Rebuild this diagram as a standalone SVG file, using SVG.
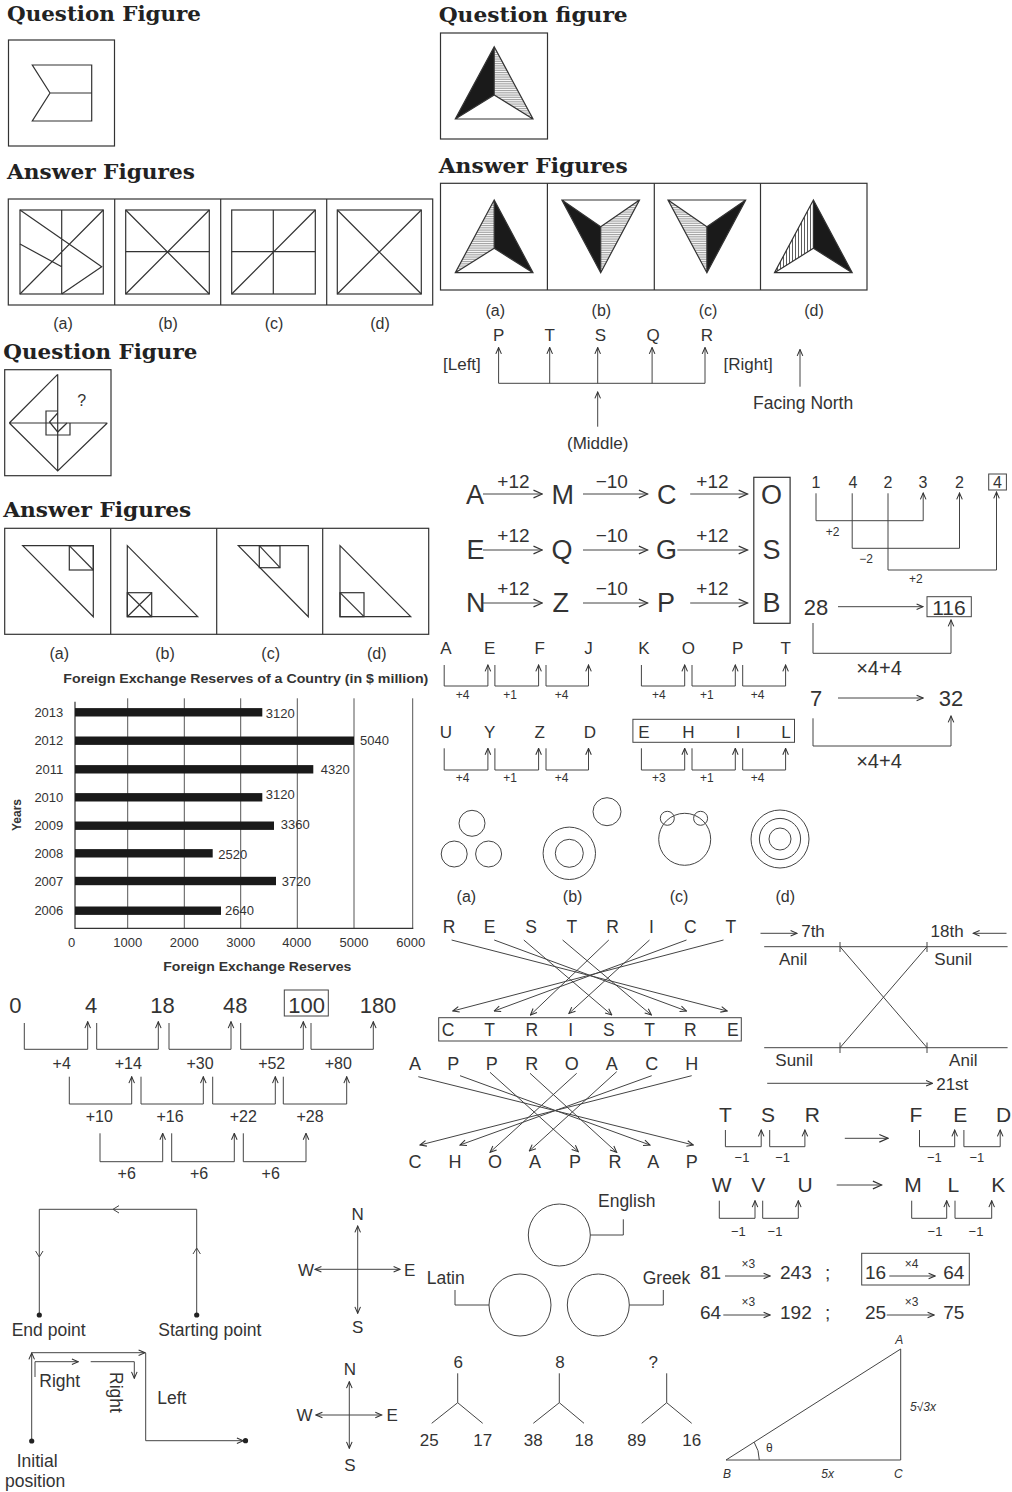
<svg xmlns="http://www.w3.org/2000/svg" width="1012" height="1492" viewBox="0 0 1012 1492">
<defs>
<style>
.t{font-family:"Liberation Sans",Arial,Helvetica,sans-serif;fill:#333}
.h{font-family:"DejaVu Serif","Liberation Serif",serif;font-weight:bold;fill:#222;font-size:21px}
.ln{fill:none;stroke:#333;stroke-width:1.2}
.lt{fill:none;stroke:#444;stroke-width:1}
.m{text-anchor:middle}
.e{text-anchor:end}
.ar{marker-end:url(#ah)}
.al{marker-end:url(#al)}
.bar{fill:#1a1a1a}
.i{font-style:italic}
</style>
<marker id="ah" viewBox="0 0 10 10" refX="9" refY="5" markerWidth="8" markerHeight="8" orient="auto-start-reverse" markerUnits="userSpaceOnUse"><path d="M1,1.5 L9,5 L1,8.5" fill="none" stroke="#333" stroke-width="1.3"/></marker>
<marker id="al" viewBox="0 0 10 10" refX="9" refY="5" markerWidth="11" markerHeight="11" orient="auto-start-reverse" markerUnits="userSpaceOnUse"><path d="M1,1.5 L9,5 L1,8.5" fill="none" stroke="#333" stroke-width="1.1"/></marker>
<pattern id="hh" patternUnits="userSpaceOnUse" width="4" height="1.8"><rect width="4" height="1.8" fill="#fff"/><line x1="0" y1="0.5" x2="4" y2="0.5" stroke="#777" stroke-width="0.7"/></pattern>
<pattern id="vh" patternUnits="userSpaceOnUse" width="3" height="4"><rect width="3" height="4" fill="#fff"/><line x1="0.5" y1="0" x2="0.5" y2="4" stroke="#333" stroke-width="0.8"/></pattern>
</defs>
<rect width="1012" height="1492" fill="#fff"/>

<!-- Section 1 -->
<g id="q1-question">
<text class="h" x="7" y="21" textLength="194" lengthAdjust="spacingAndGlyphs">Question Figure</text>
<rect class="ln" x="8.5" y="40" width="106" height="106"/>
<path class="ln" d="M32.3,65 H91.7 V121 H32.3 L50,93 Z M50,93 H91.7"/>
</g>
<g id="q1-answers">
<text class="h" x="7" y="179" textLength="188" lengthAdjust="spacingAndGlyphs">Answer Figures</text>
<rect class="ln" x="8.3" y="199" width="424.4" height="106"/>
<path class="ln" d="M114.7,199 V305 M220.7,199 V305 M326.7,199 V305"/>
<rect class="ln" x="20" y="210" width="83.3" height="84"/>
<path class="ln" d="M61.7,210 V294 M20,294 L103.3,210 M20,210 L101.7,266.7 L61.7,294 M20,244 L61.7,266.7"/>
<rect class="ln" x="125.7" y="210" width="83.6" height="84"/>
<path class="ln" d="M125.7,210 L209.3,294 M125.7,294 L209.3,210 M125.7,251.7 H209.3"/>
<rect class="ln" x="231.7" y="210" width="83.6" height="84"/>
<path class="ln" d="M273.3,210 V294 M231.7,251.7 H315.3 M231.7,294 L315.3,210"/>
<rect class="ln" x="337.3" y="210" width="84" height="84"/>
<path class="ln" d="M337.3,210 L421.3,294 M337.3,294 L421.3,210"/>
<text class="t m" x="63" y="329" font-size="16">(a)</text>
<text class="t m" x="168" y="329" font-size="16">(b)</text>
<text class="t m" x="274" y="329" font-size="16">(c)</text>
<text class="t m" x="380" y="329" font-size="16">(d)</text>
</g>

<!-- Section 2 -->
<g id="q2-question">
<text class="h" x="438.7" y="22" textLength="189" lengthAdjust="spacingAndGlyphs">Question figure</text>
<rect class="ln" x="440.5" y="33" width="107" height="106"/>
<path d="M494.2,46.7 L455.3,119 L494.2,95 Z" fill="#1a1a1a"/>
<path d="M494.2,46.7 L494.2,95 L533,119 Z" fill="url(#hh)"/>
<path class="ln" d="M494.2,46.7 L455.3,119 L533,119 Z M494.2,46.7 V95 M455.3,119 L494.2,95 L533,119"/>
</g>
<g id="q2-answers">
<text class="h" x="438.7" y="173" textLength="189" lengthAdjust="spacingAndGlyphs">Answer Figures</text>
<rect class="ln" x="440.5" y="183.3" width="426.5" height="106.7"/>
<path class="ln" d="M547.4,183.3 V290 M654.3,183.3 V290 M760.5,183.3 V290"/>
<path d="M494.2,200 L455.3,272.7 L494.2,248.3 Z" fill="url(#hh)"/>
<path d="M494.2,200 L494.2,248.3 L533,272.7 Z" fill="#1a1a1a"/>
<path class="ln" d="M494.2,200 L455.3,272.7 L533,272.7 Z M494.2,200 V248.3 M455.3,272.7 L494.2,248.3 L533,272.7"/>
<path d="M561.9,200 L600.7,226.7 L600.7,272.7 Z" fill="#1a1a1a"/>
<path d="M639.5,200 L600.7,226.7 L600.7,272.7 Z" fill="url(#hh)"/>
<path class="ln" d="M561.9,200 H639.5 L600.7,272.7 Z M600.7,226.7 V272.7 M561.9,200 L600.7,226.7 L639.5,200"/>
<path d="M668,200 L706.9,226.7 L706.9,272.7 Z" fill="url(#hh)"/>
<path d="M745.7,200 L706.9,226.7 L706.9,272.7 Z" fill="#1a1a1a"/>
<path class="ln" d="M668,200 H745.7 L706.9,272.7 Z M706.9,226.7 V272.7 M668,200 L706.9,226.7 L745.7,200"/>
<path d="M813.4,200 L774.5,272.7 L813.4,248.3 Z" fill="url(#vh)"/>
<path d="M813.4,200 L813.4,248.3 L852.2,272.7 Z" fill="#1a1a1a"/>
<path class="ln" d="M813.4,200 L774.5,272.7 L852.2,272.7 Z M813.4,200 V248.3 M774.5,272.7 L813.4,248.3 L852.2,272.7"/>
<text class="t m" x="495.3" y="316" font-size="16">(a)</text>
<text class="t m" x="601.4" y="316" font-size="16">(b)</text>
<text class="t m" x="708" y="316" font-size="16">(c)</text>
<text class="t m" x="814" y="316" font-size="16">(d)</text>
</g>

<g id="seating">
<text class="t m" x="498.6" y="341" font-size="17">P</text>
<text class="t m" x="549.7" y="341" font-size="17">T</text>
<text class="t m" x="600.3" y="341" font-size="17">S</text>
<text class="t m" x="653.2" y="341" font-size="17">Q</text>
<text class="t m" x="706.9" y="341" font-size="17">R</text>
<text class="t" x="443" y="370" font-size="17">[Left]</text>
<text class="t" x="723.5" y="370" font-size="17">[Right]</text>
<text class="t m" x="597.7" y="449" font-size="17">(Middle)</text>
<text class="t" x="753" y="409" font-size="17.5">Facing North</text>
</g>
<g id="seating-connectors">
<path class="lt" d="M498.6,383.3 H705"/>
<path class="lt ar" d="M498.6,383.3 V347.5"/>
<path class="lt ar" d="M549.7,383.3 V347.5"/>
<path class="lt ar" d="M597.7,383.3 V347.5"/>
<path class="lt ar" d="M652.1,383.3 V347.5"/>
<path class="lt ar" d="M705,383.3 V347.5"/>
<path class="lt ar" d="M597.7,426.7 V392"/>
<path class="lt ar" d="M800,386.7 V349.5"/>
</g>

<!-- Section 3 -->
<g id="q3-question">
<text class="h" x="3.3" y="359" textLength="194" lengthAdjust="spacingAndGlyphs">Question Figure</text>
<rect class="ln" x="4.7" y="369.7" width="106.3" height="106"/>
<path class="ln" d="M9.3,423 H107.3 M57.7,374.3 V471 M9.3,423 L57.7,374.3 M9.3,423 L57.7,471 L107.3,423"/>
<path class="ln" d="M57.7,411 H46 V435 H70 V423 M57.7,413 L49.5,422 L57.7,432 L67,423"/>
<text class="t m" x="81.7" y="406" font-size="16">?</text>
</g>
<g id="q3-answers">
<text class="h" x="3.3" y="516.7" textLength="188" lengthAdjust="spacingAndGlyphs">Answer Figures</text>
<rect class="ln" x="4.7" y="528.3" width="424" height="106"/>
<path class="ln" d="M110.7,528.3 V634.3 M216.7,528.3 V634.3 M322.7,528.3 V634.3"/>
<path class="ln" d="M22.7,545.7 H93.3 V616.7 Z"/>
<rect class="ln" x="69.3" y="545.7" width="24" height="24.3"/>
<path class="ln" d="M69.3,545.7 L93.3,570"/>
<path class="ln" d="M127.3,545.7 V616.7 H197.7 Z"/>
<rect class="ln" x="127.3" y="592.7" width="24.4" height="24"/>
<path class="ln" d="M127.3,592.7 L151.7,616.7 M127.3,616.7 L151.7,592.7"/>
<path class="ln" d="M238.3,545.7 H308.3 V616.7 Z"/>
<rect class="ln" x="259.3" y="545.7" width="20.7" height="22"/>
<path class="ln" d="M259.3,545.7 L280,567.7"/>
<path class="ln" d="M340,545.7 V616.7 H410.7 Z"/>
<rect class="ln" x="340" y="592.7" width="24" height="24"/>
<path class="ln" d="M340,592.7 L364,616.7"/>
<text class="t m" x="59.3" y="659" font-size="16">(a)</text>
<text class="t m" x="165" y="659" font-size="16">(b)</text>
<text class="t m" x="270.7" y="659" font-size="16">(c)</text>
<text class="t m" x="376.7" y="659" font-size="16">(d)</text>
</g>

<!-- Letter coding -->
<g id="coding-letters">
<text class="t" x="466" y="504" font-size="27">A</text>
<text class="t" x="551.5" y="504" font-size="27">M</text>
<text class="t" x="657" y="504" font-size="27">C</text>
<text class="t m" x="771.6" y="504" font-size="27">O</text>
<text class="t" x="466.4" y="559" font-size="27">E</text>
<text class="t" x="551.5" y="559" font-size="27">Q</text>
<text class="t" x="656" y="559" font-size="27">G</text>
<text class="t m" x="771.6" y="559" font-size="27">S</text>
<text class="t" x="466" y="612" font-size="27">N</text>
<text class="t" x="552.6" y="612" font-size="27">Z</text>
<text class="t" x="657" y="612" font-size="27">P</text>
<text class="t m" x="771.6" y="612" font-size="27">B</text>
<rect class="ln" x="753.8" y="477.3" width="36.3" height="146"/>
<text class="t m" x="513.4" y="488.3" font-size="19">+12</text>
<text class="t m" x="611.8" y="488.3" font-size="19">−10</text>
<text class="t m" x="712.4" y="488.3" font-size="19">+12</text>
<text class="t m" x="513.4" y="542" font-size="19">+12</text>
<text class="t m" x="611.8" y="542" font-size="19">−10</text>
<text class="t m" x="712.4" y="542" font-size="19">+12</text>
<text class="t m" x="513.4" y="595" font-size="19">+12</text>
<text class="t m" x="611.8" y="595" font-size="19">−10</text>
<text class="t m" x="712.4" y="595" font-size="19">+12</text>
</g>
<g id="coding-connectors">
<path class="lt al" d="M483,494 H542.3"/>
<path class="lt al" d="M583,494 H647.7"/>
<path class="lt al" d="M690.2,494 H747.5"/>
<path class="lt al" d="M483,550 H542.3"/>
<path class="lt al" d="M583,550 H647.7"/>
<path class="lt al" d="M677.3,550 H747.5"/>
<path class="lt al" d="M483,603 H542.3"/>
<path class="lt al" d="M583,603 H647.7"/>
<path class="lt al" d="M690.2,603 H747.5"/>
</g>

<!-- 1 4 2 3 2 4 -->
<g id="num-pattern">
<text class="t m" x="816" y="488.3" font-size="16">1</text>
<text class="t m" x="853" y="488.3" font-size="16">4</text>
<text class="t m" x="888" y="488.3" font-size="16">2</text>
<text class="t m" x="923" y="488.3" font-size="16">3</text>
<text class="t m" x="959.5" y="488.3" font-size="16">2</text>
<text class="t m" x="997.5" y="488.3" font-size="16">4</text>
<rect class="lt" x="988.7" y="474" width="17.7" height="16"/>
<text class="t m" x="832.6" y="536" font-size="12">+2</text>
<text class="t m" x="866" y="563" font-size="12">−2</text>
<text class="t m" x="915.8" y="583" font-size="12">+2</text>
<path class="lt ar" d="M816,493.3 V520.7 H923.2 V493"/>
<path class="lt ar" d="M852.2,493.3 V548.3 H959.5 V493"/>
<path class="lt ar" d="M888,493.3 V570 H996.5 V492"/>
</g>

<g id="num-28">
<text class="t m" x="816" y="615" font-size="22">28</text>
<rect class="lt" x="927" y="596.7" width="44.3" height="20"/>
<text class="t m" x="949" y="614.5" font-size="21">116</text>
<path class="lt ar" d="M838,606.7 H923"/>
<path class="lt ar" d="M813,623 V653.3 H951 V620"/>
<text class="t m" x="879" y="675" font-size="20">×4+4</text>
<text class="t m" x="816" y="706" font-size="22">7</text>
<text class="t m" x="951" y="706" font-size="22">32</text>
<path class="lt ar" d="M838,698 H923"/>
<path class="lt ar" d="M813,718.3 V746 H951 V716"/>
<text class="t m" x="879" y="768" font-size="20">×4+4</text>
</g>

<!-- letter series -->
<g id="letter-series">
<text class="t m" x="446" y="654" font-size="17">A</text>
<text class="t m" x="489.7" y="654" font-size="17">E</text>
<text class="t m" x="539.7" y="654" font-size="17">F</text>
<text class="t m" x="588.5" y="654" font-size="17">J</text>
<text class="t m" x="644" y="654" font-size="17">K</text>
<text class="t m" x="688.4" y="654" font-size="17">O</text>
<text class="t m" x="737.6" y="654" font-size="17">P</text>
<text class="t m" x="785.6" y="654" font-size="17">T</text>
<path class="lt ar" d="M444.2,665 V686 H487.9 V665"/>
<path class="lt ar" d="M494.9,665 V686 H538.6 V665"/>
<path class="lt ar" d="M546,665 V686 H588.5 V665"/>
<path class="lt ar" d="M641.4,665 V686 H684.7 V665"/>
<path class="lt ar" d="M692,665 V686 H735.3 V665"/>
<path class="lt ar" d="M742.7,665 V686 H785.6 V665"/>
<text class="t m" x="462.7" y="699" font-size="12">+4</text>
<text class="t m" x="510" y="699" font-size="12">+1</text>
<text class="t m" x="561.5" y="699" font-size="12">+4</text>
<text class="t m" x="658.8" y="699" font-size="12">+4</text>
<text class="t m" x="706.9" y="699" font-size="12">+1</text>
<text class="t m" x="757.5" y="699" font-size="12">+4</text>
<text class="t m" x="446" y="737.5" font-size="17">U</text>
<text class="t m" x="489.7" y="737.5" font-size="17">Y</text>
<text class="t m" x="539.7" y="737.5" font-size="17">Z</text>
<text class="t m" x="590" y="737.5" font-size="17">D</text>
<rect class="lt" x="632.9" y="719.3" width="161.6" height="23"/>
<text class="t m" x="644" y="737.5" font-size="17">E</text>
<text class="t m" x="688.4" y="737.5" font-size="17">H</text>
<text class="t m" x="738" y="737.5" font-size="17">I</text>
<text class="t m" x="786" y="737.5" font-size="17">L</text>
<path class="lt ar" d="M444.2,748.3 V770 H487.9 V748.3"/>
<path class="lt ar" d="M494.9,748.3 V770 H538.6 V748.3"/>
<path class="lt ar" d="M546,748.3 V770 H588.5 V748.3"/>
<path class="lt ar" d="M641.4,748.3 V770 H684.7 V748.3"/>
<path class="lt ar" d="M692,748.3 V770 H735.3 V748.3"/>
<path class="lt ar" d="M742.7,748.3 V770 H785.6 V748.3"/>
<text class="t m" x="462.7" y="782" font-size="12">+4</text>
<text class="t m" x="510" y="782" font-size="12">+1</text>
<text class="t m" x="561.5" y="782" font-size="12">+4</text>
<text class="t m" x="658.8" y="782" font-size="12">+3</text>
<text class="t m" x="706.9" y="782" font-size="12">+1</text>
<text class="t m" x="757.5" y="782" font-size="12">+4</text>
</g>

<!-- circles -->
<g id="circles">
<circle class="lt" cx="472" cy="823.3" r="13"/>
<circle class="lt" cx="454.2" cy="854" r="13"/>
<circle class="lt" cx="488.6" cy="854" r="13"/>
<circle class="lt" cx="569.3" cy="853.3" r="26.2"/>
<circle class="lt" cx="569.3" cy="853.3" r="14"/>
<circle class="lt" cx="607" cy="811.7" r="14"/>
<circle class="lt" cx="684.7" cy="839.3" r="26"/>
<circle class="lt" cx="667.3" cy="818.3" r="7"/>
<circle class="lt" cx="700.6" cy="818.3" r="7"/>
<circle class="lt" cx="780" cy="839" r="29"/>
<circle class="lt" cx="780" cy="839" r="20.6"/>
<circle class="lt" cx="780" cy="839" r="11"/>
<text class="t m" x="466.4" y="902" font-size="16">(a)</text>
<text class="t m" x="572.6" y="902" font-size="16">(b)</text>
<text class="t m" x="679.1" y="902" font-size="16">(c)</text>
<text class="t m" x="785.3" y="902" font-size="16">(d)</text>
</g>

<!-- Bar chart -->
<g id="bar-chart">
<text class="t" x="63.3" y="683" font-size="13" font-weight="bold" textLength="365" lengthAdjust="spacingAndGlyphs">Foreign Exchange Reserves of a Country (in $ million)</text>
<path d="M127.7,698.3 V928.3 M184.3,698.3 V928.3 M240.7,698.3 V928.3 M297.3,698.3 V928.3 M354,698.3 V928.3 M412.7,698.3 V928.3" fill="none" stroke="#555" stroke-width="1"/>
<path d="M75,701.7 V928.3 H413.3" fill="none" stroke="#333" stroke-width="1.2"/>
<rect class="bar" x="75" y="708.1" width="187.3" height="8.4"/>
<rect class="bar" x="75" y="736.5" width="279" height="8.4"/>
<rect class="bar" x="75" y="765.1" width="238.3" height="8.4"/>
<rect class="bar" x="75" y="793.1" width="187.3" height="8.4"/>
<rect class="bar" x="75" y="821.5" width="199" height="8.4"/>
<rect class="bar" x="75" y="849.1" width="137.7" height="8.4"/>
<rect class="bar" x="75" y="876.8" width="201" height="8.4"/>
<rect class="bar" x="75" y="906.5" width="146" height="8.4"/>
<text class="t" x="265.7" y="717.5" font-size="13">3120</text>
<text class="t" x="360" y="745" font-size="13">5040</text>
<text class="t" x="320.7" y="774" font-size="13">4320</text>
<text class="t" x="265.7" y="799" font-size="13">3120</text>
<text class="t" x="280.7" y="828.5" font-size="13">3360</text>
<text class="t" x="218.3" y="858.5" font-size="13">2520</text>
<text class="t" x="281.7" y="885.5" font-size="13">3720</text>
<text class="t" x="225" y="915" font-size="13">2640</text>
<text class="t e" x="63.3" y="716.8" font-size="13">2013</text>
<text class="t e" x="63.3" y="745.2" font-size="13">2012</text>
<text class="t e" x="63.3" y="773.8" font-size="13">2011</text>
<text class="t e" x="63.3" y="801.8" font-size="13">2010</text>
<text class="t e" x="63.3" y="830.2" font-size="13">2009</text>
<text class="t e" x="63.3" y="857.8" font-size="13">2008</text>
<text class="t e" x="63.3" y="885.5" font-size="13">2007</text>
<text class="t e" x="63.3" y="915.2" font-size="13">2006</text>
<text class="t m" x="71.7" y="947" font-size="13">0</text>
<text class="t m" x="127.7" y="947" font-size="13">1000</text>
<text class="t m" x="184.3" y="947" font-size="13">2000</text>
<text class="t m" x="240.7" y="947" font-size="13">3000</text>
<text class="t m" x="296.7" y="947" font-size="13">4000</text>
<text class="t m" x="354" y="947" font-size="13">5000</text>
<text class="t m" x="410.7" y="947" font-size="13">6000</text>
<text class="t m" x="0" y="0" font-size="12" font-weight="bold" transform="translate(21,815) rotate(-90)">Years</text>
<text class="t" x="163.3" y="971" font-size="13.5" font-weight="bold" textLength="188" lengthAdjust="spacingAndGlyphs">Foreign Exchange Reserves</text>
</g>

<!-- RESTRICT -->
<g id="restrict">
<text class="t m" x="449" y="933" font-size="17.5">R</text>
<text class="t m" x="489.7" y="933" font-size="17.5">E</text>
<text class="t m" x="531.2" y="933" font-size="17.5">S</text>
<text class="t m" x="571.9" y="933" font-size="17.5">T</text>
<text class="t m" x="612.5" y="933" font-size="17.5">R</text>
<text class="t m" x="651.4" y="933" font-size="17.5">I</text>
<text class="t m" x="690.2" y="933" font-size="17.5">C</text>
<text class="t m" x="730.9" y="933" font-size="17.5">T</text>
<rect class="lt" x="438.7" y="1017.7" width="302.6" height="23.3"/>
<text class="t m" x="448" y="1035.5" font-size="17.5">C</text>
<text class="t m" x="489.7" y="1035.5" font-size="17.5">T</text>
<text class="t m" x="531.9" y="1035.5" font-size="17.5">R</text>
<text class="t m" x="570.7" y="1035.5" font-size="17.5">I</text>
<text class="t m" x="608.8" y="1035.5" font-size="17.5">S</text>
<text class="t m" x="649.5" y="1035.5" font-size="17.5">T</text>
<text class="t m" x="690.2" y="1035.5" font-size="17.5">R</text>
<text class="t m" x="732.8" y="1035.5" font-size="17.5">E</text>
</g>
<g id="restrict-connectors">
<path class="lt ar" d="M451.6,940 L727.2,1011"/>
<path class="lt ar" d="M494.2,940 L686.5,1011"/>
<path class="lt ar" d="M523.8,940 L611.8,1015"/>
<path class="lt ar" d="M562.6,940 L651.4,1015"/>
<path class="lt ar" d="M608.8,940 L530.4,1015"/>
<path class="lt ar" d="M649.5,940 L568.9,1013.5"/>
<path class="lt ar" d="M686.5,940 L494.2,1011"/>
<path class="lt ar" d="M723.5,940 L452.8,1011"/>
</g>

<!-- Anil / Sunil -->
<g id="row-positions">
<path class="lt ar" d="M760.5,933.3 H797"/>
<text class="t" x="801.2" y="937" font-size="17">7th</text>
<text class="t" x="930.6" y="937" font-size="17">18th</text>
<path class="lt ar" d="M1006.5,933.3 H973.2"/>
<path class="lt" d="M764.2,946.7 H1007.6 M764.2,1047.7 H1007.6"/>
<path class="lt" d="M840,942 V952 M927,942 V952 M840,1042.5 V1053 M927,1042.5 V1053"/>
<path class="lt" d="M840,946.7 L927,1047.7 M927,946.7 L840,1047.7"/>
<text class="t" x="779" y="965" font-size="17">Anil</text>
<text class="t" x="934.3" y="965" font-size="17">Sunil</text>
<text class="t" x="775.3" y="1066" font-size="17">Sunil</text>
<text class="t" x="949.1" y="1066" font-size="17">Anil</text>
<path class="lt ar" d="M767.2,1083.3 H932.5"/>
<text class="t" x="936.2" y="1090" font-size="17">21st</text>
</g>

<!-- APPROACH -->
<g id="approach">
<text class="t m" x="415" y="1069.5" font-size="18">A</text>
<text class="t m" x="453.3" y="1069.5" font-size="18">P</text>
<text class="t m" x="491.7" y="1069.5" font-size="18">P</text>
<text class="t m" x="531.7" y="1069.5" font-size="18">R</text>
<text class="t m" x="571.7" y="1069.5" font-size="18">O</text>
<text class="t m" x="611.7" y="1069.5" font-size="18">A</text>
<text class="t m" x="651.7" y="1069.5" font-size="18">C</text>
<text class="t m" x="691.7" y="1069.5" font-size="18">H</text>
<text class="t m" x="415" y="1168" font-size="18">C</text>
<text class="t m" x="455" y="1168" font-size="18">H</text>
<text class="t m" x="495" y="1168" font-size="18">O</text>
<text class="t m" x="535" y="1168" font-size="18">A</text>
<text class="t m" x="575" y="1168" font-size="18">P</text>
<text class="t m" x="615" y="1168" font-size="18">R</text>
<text class="t m" x="653.3" y="1168" font-size="18">A</text>
<text class="t m" x="691.7" y="1168" font-size="18">P</text>
</g>
<g id="approach-connectors">
<path class="lt ar" d="M418.3,1076.7 L693.3,1145"/>
<path class="lt ar" d="M460,1075.7 L650,1145"/>
<path class="lt ar" d="M490,1072.3 L578.3,1151.7"/>
<path class="lt ar" d="M530,1073.3 L616.7,1152.3"/>
<path class="lt ar" d="M576.7,1073.3 L490,1152.3"/>
<path class="lt ar" d="M616.7,1071.7 L529.3,1151"/>
<path class="lt ar" d="M651.7,1075.7 L460,1145"/>
<path class="lt ar" d="M691.7,1075.7 L420,1145"/>
</g>

<!-- T S R / F E D -->
<g id="tsr">
<text class="t m" x="725.4" y="1122" font-size="21">T</text>
<text class="t m" x="767.9" y="1122" font-size="21">S</text>
<text class="t m" x="812.3" y="1122" font-size="21">R</text>
<path class="lt ar" d="M725.4,1130 V1146.7 H761.2 V1130"/>
<path class="lt ar" d="M769.7,1130 V1146.7 H804.9 V1130"/>
<text class="t m" x="742" y="1162" font-size="13">−1</text>
<text class="t m" x="782.7" y="1162" font-size="13">−1</text>
<path class="lt al" d="M844.8,1138.3 H888.1"/>
<text class="t m" x="915.8" y="1122" font-size="21">F</text>
<text class="t m" x="960.2" y="1122" font-size="21">E</text>
<text class="t m" x="1003.6" y="1122" font-size="21">D</text>
<path class="lt ar" d="M919.5,1130 V1146.7 H954.7 V1130"/>
<path class="lt ar" d="M963.9,1130 V1146.7 H1000.2 V1130"/>
<text class="t m" x="934.3" y="1162" font-size="13">−1</text>
<text class="t m" x="976.9" y="1162" font-size="13">−1</text>
</g>
<g id="wvu">
<text class="t m" x="721.7" y="1192" font-size="21">W</text>
<text class="t m" x="758.3" y="1192" font-size="21">V</text>
<text class="t m" x="805" y="1192" font-size="21">U</text>
<path class="lt ar" d="M719.3,1200.7 V1218.3 H755 V1200.7"/>
<path class="lt ar" d="M762.7,1200.7 V1218.3 H798.3 V1200.7"/>
<text class="t m" x="738.3" y="1236" font-size="13">−1</text>
<text class="t m" x="775" y="1236" font-size="13">−1</text>
<path class="lt al" d="M836.7,1185 H881.7"/>
<text class="t m" x="913" y="1192" font-size="21">M</text>
<text class="t m" x="953.3" y="1192" font-size="21">L</text>
<text class="t m" x="998.3" y="1192" font-size="21">K</text>
<path class="lt ar" d="M911.7,1200.7 V1218.3 H946.7 V1200.7"/>
<path class="lt ar" d="M955,1200.7 V1218.3 H991.7 V1200.7"/>
<text class="t m" x="935" y="1236" font-size="13">−1</text>
<text class="t m" x="976" y="1236" font-size="13">−1</text>
</g>

<!-- Number series 0 4 18 -->
<g id="num-series">
<text class="t m" x="15.3" y="1013" font-size="22">0</text>
<text class="t m" x="91" y="1013" font-size="22">4</text>
<text class="t m" x="162.5" y="1013" font-size="22">18</text>
<text class="t m" x="235.3" y="1013" font-size="22">48</text>
<text class="t m" x="306.7" y="1013" font-size="22">100</text>
<text class="t m" x="378" y="1013" font-size="22">180</text>
<rect class="lt" x="284.3" y="990" width="44" height="26"/>
<path class="lt ar" d="M24.3,1023 V1049.3 H87.7 V1021.7"/>
<path class="lt ar" d="M96.7,1023 V1049.3 H158.3 V1021.7"/>
<path class="lt ar" d="M169,1023 V1049.3 H231 V1021.7"/>
<path class="lt ar" d="M240.7,1023 V1049.3 H303.3 V1021.7"/>
<path class="lt ar" d="M311,1023 V1049.3 H373.3 V1021.7"/>
<text class="t m" x="61.7" y="1069" font-size="16">+4</text>
<text class="t m" x="128.3" y="1069" font-size="16">+14</text>
<text class="t m" x="200" y="1069" font-size="16">+30</text>
<text class="t m" x="271.7" y="1069" font-size="16">+52</text>
<text class="t m" x="338.3" y="1069" font-size="16">+80</text>
<path class="lt ar" d="M69.3,1076.7 V1104 H131.7 V1076.7"/>
<path class="lt ar" d="M141,1076.7 V1104 H203.3 V1076.7"/>
<path class="lt ar" d="M212.7,1076.7 V1104 H275.3 V1076.7"/>
<path class="lt ar" d="M283.3,1076.7 V1104 H346.7 V1076.7"/>
<text class="t m" x="99.3" y="1122" font-size="16">+10</text>
<text class="t m" x="170" y="1122" font-size="16">+16</text>
<text class="t m" x="243.3" y="1122" font-size="16">+22</text>
<text class="t m" x="310" y="1122" font-size="16">+28</text>
<path class="lt ar" d="M100,1133.3 V1161.7 H162.7 V1133.3"/>
<path class="lt ar" d="M171.7,1133.3 V1161.7 H234.3 V1133.3"/>
<path class="lt ar" d="M243.3,1133.3 V1161.7 H306 V1133.3"/>
<text class="t m" x="126.7" y="1179" font-size="16">+6</text>
<text class="t m" x="199" y="1179" font-size="16">+6</text>
<text class="t m" x="270.7" y="1179" font-size="16">+6</text>
</g>

<!-- Path diagram 1 -->
<g id="walk1">
<path class="lt" d="M196.7,1315 V1209.3 H39.3 V1315"/>
<path class="lt" d="M193,1254 L196.7,1248 L200.4,1254 M119,1205.6 L113,1209.3 L119,1213 M35.6,1251 L39.3,1257 L43,1251"/>
<circle cx="196.7" cy="1315" r="2.6" fill="#222"/>
<circle cx="39.3" cy="1315" r="2.6" fill="#222"/>
<text class="t" x="11.7" y="1336" font-size="17.5">End point</text>
<text class="t" x="158.3" y="1336" font-size="17.5">Starting point</text>
</g>
<!-- Path diagram 2 -->
<g id="walk2">
<path class="lt ar" d="M31.7,1441 V1353"/>
<path class="lt ar" d="M31.7,1352.7 H145"/>
<path class="lt ar" d="M145.7,1353 V1440.7 H243.3"/>
<path class="lt ar" d="M35,1377 V1361.7 H78.3"/>
<path class="lt ar" d="M90.7,1361.7 H134.3 V1378.3"/>
<circle cx="31.7" cy="1441" r="2.6" fill="#222"/>
<circle cx="245.5" cy="1440.7" r="2.6" fill="#222"/>
<text class="t" x="39.3" y="1387" font-size="17.5">Right</text>
<text class="t" x="0" y="0" font-size="17.5" transform="translate(109.5,1372) rotate(90)">Right</text>
<text class="t" x="157.3" y="1404" font-size="17.5">Left</text>
<text class="t" x="16.7" y="1467" font-size="17.5">Initial</text>
<text class="t" x="5" y="1487" font-size="17.5">position</text>
</g>

<!-- Compasses -->
<g id="compass1">
<path class="lt" d="M357.7,1226 V1313.3" marker-start="url(#ah)" marker-end="url(#ah)"/>
<path class="lt" d="M315,1269.3 H400" marker-start="url(#ah)" marker-end="url(#ah)"/>
<text class="t m" x="357.7" y="1219.5" font-size="17">N</text>
<text class="t m" x="357.7" y="1333" font-size="17">S</text>
<text class="t e" x="314" y="1275.5" font-size="17">W</text>
<text class="t" x="404" y="1275.5" font-size="17">E</text>
</g>
<g id="compass2">
<path class="lt" d="M349.3,1381.7 V1448.3" marker-start="url(#ah)" marker-end="url(#ah)"/>
<path class="lt" d="M316,1415 H381.7" marker-start="url(#ah)" marker-end="url(#ah)"/>
<text class="t m" x="350" y="1374.5" font-size="17">N</text>
<text class="t m" x="350" y="1471" font-size="17">S</text>
<text class="t e" x="312.5" y="1421" font-size="17">W</text>
<text class="t" x="386.5" y="1421" font-size="17">E</text>
</g>

<!-- Language circles -->
<g id="languages">
<circle class="lt" cx="559.3" cy="1235" r="31"/>
<circle class="lt" cx="520" cy="1305" r="31"/>
<circle class="lt" cx="598.3" cy="1305" r="31"/>
<path class="lt" d="M590.3,1235 H623.3 V1219.3 M489,1305 H455 V1290 M629.3,1305 H663.3 V1290"/>
<text class="t m" x="626.7" y="1206.5" font-size="17.5">English</text>
<text class="t" x="426.7" y="1284" font-size="17.5">Latin</text>
<text class="t" x="642.7" y="1284" font-size="17.5">Greek</text>
</g>

<!-- Trees -->
<g id="trees">
<text class="t m" x="458.3" y="1367.5" font-size="17">6</text>
<path class="lt" d="M457.7,1373.3 V1402.7 M431.7,1423.3 L457.7,1402.7 L482.7,1423.3"/>
<text class="t m" x="429.3" y="1445.5" font-size="17">25</text>
<text class="t m" x="482.7" y="1445.5" font-size="17">17</text>
<text class="t m" x="560" y="1367.5" font-size="17">8</text>
<path class="lt" d="M559.3,1373.3 V1402.7 M533.3,1423.3 L559.3,1402.7 L584,1423.3"/>
<text class="t m" x="533.3" y="1445.5" font-size="17">38</text>
<text class="t m" x="584" y="1445.5" font-size="17">18</text>
<text class="t m" x="653.3" y="1367.5" font-size="17">?</text>
<path class="lt" d="M666.7,1373.3 V1402.7 M641.7,1423.3 L666.7,1402.7 L691.7,1423.3"/>
<text class="t m" x="636.7" y="1445.5" font-size="17">89</text>
<text class="t m" x="691.7" y="1445.5" font-size="17">16</text>
</g>

<!-- multiplications -->
<g id="mult">
<text class="t" x="700" y="1279" font-size="19">81</text>
<path class="lt ar" d="M725,1276 H770"/>
<text class="t m" x="748.3" y="1268" font-size="12">×3</text>
<text class="t" x="780" y="1279" font-size="19">243</text>
<text class="t" x="825" y="1279" font-size="19">;</text>
<rect class="lt" x="861.7" y="1253.3" width="107.6" height="31.7"/>
<text class="t" x="865" y="1279" font-size="19">16</text>
<path class="lt ar" d="M889.3,1276 H935"/>
<text class="t m" x="911.7" y="1268" font-size="12">×4</text>
<text class="t" x="943.3" y="1279" font-size="19">64</text>
<text class="t" x="700" y="1319" font-size="19">64</text>
<path class="lt ar" d="M723.3,1315 H770"/>
<text class="t m" x="748.3" y="1306" font-size="12">×3</text>
<text class="t" x="780" y="1319" font-size="19">192</text>
<text class="t" x="825" y="1319" font-size="19">;</text>
<text class="t" x="865" y="1319" font-size="19">25</text>
<path class="lt ar" d="M886.7,1315 H934"/>
<text class="t m" x="911.7" y="1306" font-size="12">×3</text>
<text class="t" x="943.3" y="1319" font-size="19">75</text>
</g>

<!-- Triangle -->
<g id="triangle">
<path class="lt" d="M726,1460 H900.7 V1349 Z"/>
<path class="lt" d="M759.3,1460 A33.3,33.3 0 0 0 754.1,1442.1"/>
<text class="t" x="766" y="1452" font-size="12">θ</text>
<text class="t m i" x="899.3" y="1344" font-size="12">A</text>
<text class="t m i" x="727" y="1478" font-size="12">B</text>
<text class="t m i" x="898.3" y="1478" font-size="12">C</text>
<text class="t m i" x="827.7" y="1478" font-size="12">5x</text>
<text class="t i" x="910" y="1411" font-size="12">5√3x</text>
</g>
</svg>
